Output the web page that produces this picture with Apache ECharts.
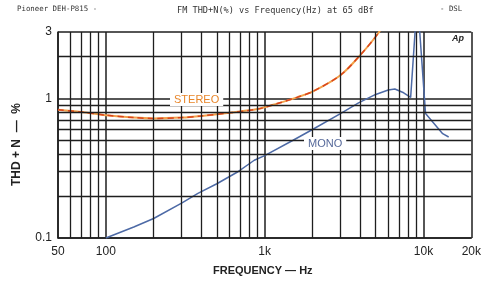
<!DOCTYPE html>
<html>
<head>
<meta charset="UTF-8">
<title>FM THD+N vs Frequency</title>
<script src="https://cdn.jsdelivr.net/npm/echarts@6/dist/echarts.min.js"></script>
<style>
	html,body{margin:0;padding:0;background:#fff;}
	#main{width:484px;height:283px;}
</style>
</head>
<body>
<div id="main"></div>
<script type="text/javascript">
	// stereo curve (Hz, %)
	var stereoFreq = [50, 70, 100, 150, 200, 300, 400, 600, 900, 1200, 1600, 2000, 3000, 4000, 5200, 5600];
	var stereoThd  = [0.83, 0.80, 0.76, 0.73, 0.72, 0.73, 0.75, 0.79, 0.84, 0.92, 1.02, 1.12, 1.47, 2.05, 2.95, 3.5];
	// mono curve
	var monoFreq = [100, 150, 200, 300, 380, 500, 670, 860, 1000, 1500, 2000, 3000, 3900, 5000, 6000, 6600, 7500, 8300, 9000, 9300, 10300, 13200, 14400];
	var monoThd  = [0.1, 0.12, 0.138, 0.178, 0.209, 0.245, 0.296, 0.361, 0.39, 0.5, 0.6, 0.78, 0.93, 1.07, 1.15, 1.17, 1.1, 1.02, 4, 4, 0.78, 0.56, 0.53];
	// minor grid lines
	var xGrid = [60, 70, 80, 90, 200, 300, 400, 500, 600, 700, 800, 900, 2000, 3000, 4000, 5000, 6000, 7000, 8000, 9000];
	var yGrid = [0.2, 0.3, 0.4, 0.5, 0.6, 0.7, 0.8, 0.9, 2];

	function pairs(xs, ys){
		var out = [];
		for(var i=0;i<xs.length;i++){ out.push([xs[i], ys[i]]); }
		return out;
	}
	var gridLines = [];
	for(var i=0;i<xGrid.length;i++){ gridLines.push({xAxis: xGrid[i]}); }
	for(var j=0;j<yGrid.length;j++){ gridLines.push({yAxis: yGrid[j]}); }

	var myChart = echarts.init(document.getElementById('main'));
	var gridCol = '#1e1e1e';
	var option = {
		animation: false,
		grid: {left: 58, top: 32, right: 8, bottom: 45},
		xAxis: {
			type: 'log', logBase: 10, min: 50, max: 20000,
			axisLine: {show: true, lineStyle: {color: gridCol, width: 1.5}},
			axisTick: {show: false},
			splitLine: {show: true, lineStyle: {color: gridCol, width: 1.5}},
			axisLabel: {
				color: '#222', fontSize: 12, fontFamily: 'Liberation Sans', margin: 8,
				formatter: function(v){ return v >= 1000 ? (v/1000) + 'k' : v; }
			}
		},
		yAxis: {
			type: 'log', logBase: 10, min: 0.1, max: 3,
			axisLine: {show: true, lineStyle: {color: gridCol, width: 1.5}},
			axisTick: {show: false},
			splitLine: {show: true, lineStyle: {color: gridCol, width: 1.5}},
			axisLabel: {color: '#222', fontSize: 12, fontFamily: 'Liberation Sans', margin: 6}
		},
		graphic: [
			{type: 'text', left: 17, top: 6, style: {text: 'Pioneer DEH-P815 -', fill: '#333', font: '7.4px "DejaVu Sans Mono"'}},
			{type: 'text', left: 177, top: 6, style: {text: 'FM THD+N(%) vs Frequency(Hz) at 65 dBf', fill: '#333', font: '8.6px "DejaVu Sans Mono"'}},
			{type: 'text', left: 440, top: 6, style: {text: '- DSL', fill: '#333', font: '7.4px "DejaVu Sans Mono"'}},
			{type: 'text', left: 452, top: 34, style: {text: 'Ap', fill: '#222', font: 'italic bold 9px "Liberation Sans"'}},
			{type: 'text', left: 11, top: 103, rotation: Math.PI/2, originX: 0, originY: 0,
				style: {text: 'THD + N  \u2014  %', fill: '#222', font: 'bold 12px "Liberation Sans"'}},
			{type: 'text', left: 213, top: 265, style: {text: 'FREQUENCY \u2014 Hz', fill: '#222', font: 'bold 11px "Liberation Sans"'}},
			{type: 'text', left: 170, top: 93, z: 100, style: {text: 'STEREO', fill: '#e8862a', backgroundColor: '#fff', padding: [1, 4], font: '11px "Liberation Sans"'}},
			{type: 'text', left: 304, top: 137, z: 100, style: {text: 'MONO', fill: '#56699a', backgroundColor: '#fff', padding: [1, 4], font: '11px "Liberation Sans"'}}
		],
		series: [
			{
				type: 'line', data: [], silent: true,
				markLine: {
					silent: true, symbol: 'none', label: {show: false},
					lineStyle: {color: gridCol, width: 1.3, type: 'solid'},
					data: gridLines
				}
			},
			{
				name: 'MONO', type: 'line', data: pairs(monoFreq, monoThd),
				showSymbol: false, clip: true,
				lineStyle: {color: '#4d6aa6', width: 1.5}
			},
			{
				name: 'STEREO', type: 'line', data: pairs(stereoFreq, stereoThd),
				showSymbol: false, clip: true, smooth: 0.3,
				lineStyle: {color: '#f2a24a', width: 2}
			},
			{
				name: 'STEREO', type: 'line', data: pairs(stereoFreq, stereoThd),
				showSymbol: false, clip: true, smooth: 0.3,
				lineStyle: {color: '#d9441e', width: 1.5, type: [6, 4]}
			}
		]
	};
	myChart.setOption(option);
</script>
</body>
</html>
